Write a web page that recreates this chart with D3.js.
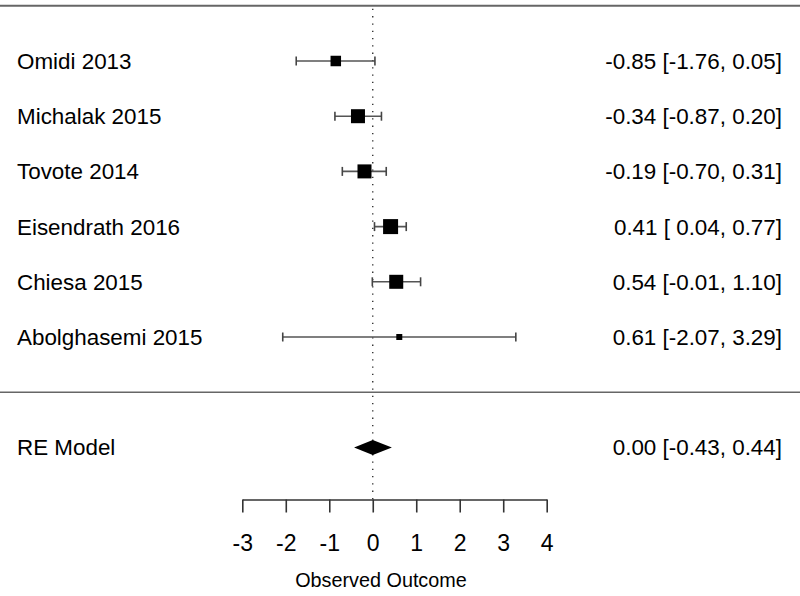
<!DOCTYPE html>
<html><head><meta charset="utf-8">
<script src="https://cdn.jsdelivr.net/npm/d3@7"></script>
<style>body{margin:0;background:#fff}text{font-family:"Liberation Sans",Arial,sans-serif}</style>
</head><body>
<script>
const studies = ["Omidi 2013","Michalak 2015","Tovote 2014","Eisendrath 2016","Chiesa 2015","Abolghasemi 2015"];
const estimates = [-0.85,-0.34,-0.19,0.41,0.54,0.61];
const lower = [-1.76,-0.87,-0.70,0.04,-0.01,-2.07];
const upper = [0.05,0.20,0.31,0.77,1.10,3.29];
const boxSizes = [10.5,14,14,15,14,6];
const summaryLabel = "RE Model";
const summary = {est:0.00, lo:-0.43, hi:0.44};
const xTicks = [-3,-2,-1,0,1,2,3,4];
const xTitle = "Observed Outcome";

const W=800,H=596;
const svg=d3.select("body").append("svg").attr("width",W).attr("height",H);
const x=d3.scaleLinear().domain([-3,4]).range([242.3,546.7]);
const y=d3.scaleLinear().domain([0,6]).range([392.2,61]);
const fs=22.4;
const padNeg=v=>{const s=v.toFixed(2);return v<0?s:" "+s;};
const lab=(e,l,u)=>e.toFixed(2)+" ["+padNeg(l)+", "+u.toFixed(2)+"]";

// top & separator lines
svg.append("line").attr("x1",0).attr("x2",W).attr("y1",y(7)).attr("y2",y(7)).attr("stroke","#666").attr("stroke-width",2);
svg.append("line").attr("x1",0).attr("x2",W).attr("y1",y(0)).attr("y2",y(0)).attr("stroke","#666").attr("stroke-width",1.6);
// reference dotted line
svg.append("line").attr("x1",x(0)).attr("x2",x(0)).attr("y1",y(7)+3).attr("y2",499).attr("stroke","#222").attr("stroke-width",1.3).attr("stroke-dasharray","1.3,6");

const rows=studies.map((s,i)=>({s,e:estimates[i],l:lower[i],u:upper[i],b:boxSizes[i],r:6-i}));
const g=svg.append("g");
rows.forEach(d=>{
  const yy=y(d.r);
  g.append("line").attr("x1",x(d.l)).attr("x2",x(d.u)).attr("y1",yy).attr("y2",yy).attr("stroke","#555").attr("stroke-width",1.6);
  [d.l,d.u].forEach(v=>g.append("line").attr("x1",x(v)).attr("x2",x(v)).attr("y1",yy-4.5).attr("y2",yy+4.5).attr("stroke","#444").attr("stroke-width",1.6));
  g.append("rect").attr("x",x(d.e)-d.b/2).attr("y",yy-d.b/2).attr("width",d.b).attr("height",d.b).attr("fill","#000");
  g.append("text").attr("x",17).attr("y",yy).attr("dy","0.36em").attr("font-size",fs).attr("fill","#000").text(d.s);
  g.append("text").attr("x",782).attr("y",yy).attr("dy","0.36em").attr("text-anchor","end").attr("font-size",fs).attr("fill","#000").style("white-space","pre").text(lab(d.e,d.l,d.u));
});
// summary
const ys=y(-1);
svg.append("path").attr("d",`M${x(summary.lo)},${ys}L${x(summary.est)},${ys-7.5}L${x(summary.hi)},${ys}L${x(summary.est)},${ys+7.5}Z`).attr("fill","#000");
svg.append("text").attr("x",17).attr("y",ys).attr("dy","0.36em").attr("font-size",fs).text(summaryLabel);
svg.append("text").attr("x",782).attr("y",ys).attr("dy","0.36em").attr("text-anchor","end").attr("font-size",fs).style("white-space","pre").text(lab(summary.est,summary.lo,summary.hi));

// axis
const ax=svg.append("g").attr("transform","translate(0,499.5)")
  .call(d3.axisBottom(x).tickValues(xTicks).tickSize(13).tickPadding(22).tickSizeOuter(0).tickFormat(d3.format("d")));
ax.select(".domain").attr("stroke","#333").attr("stroke-width",1.6);
ax.selectAll(".tick line").attr("stroke","#333").attr("stroke-width",1.6);
ax.selectAll(".tick text").attr("font-size",23).attr("fill","#000").style("font-family","Liberation Sans, Arial, sans-serif").text(d=>d<0?"-"+Math.abs(d):d);
svg.append("text").attr("x",381).attr("y",580).attr("dy","0.36em").attr("text-anchor","middle").attr("font-size",19.8).text(xTitle);
</script>
</body></html>
